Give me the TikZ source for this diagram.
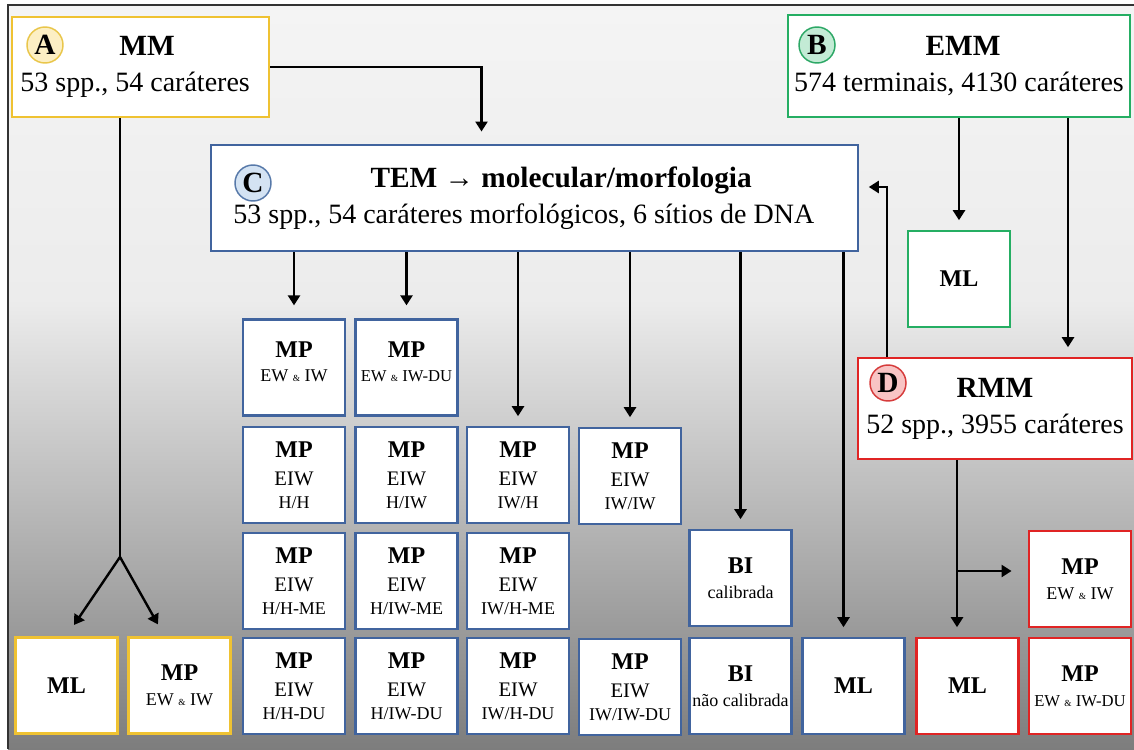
\documentclass[tikz,border=0pt]{standalone}
\usepackage{fontspec}
\setmainfont{Liberation Serif}
\usepackage{tikz}
\usetikzlibrary{positioning}
\usetikzlibrary{calc}
\usetikzlibrary{arrows.meta}
\definecolor{mmyellow}{HTML}{EFC232}
\definecolor{emmgreen}{HTML}{25AE63}
\definecolor{temblue}{HTML}{41649E}
\definecolor{rmmred}{HTML}{E02424}
\definecolor{yellowfill}{HTML}{FCEFC4}
\definecolor{yellowring}{HTML}{E9C64A}
\definecolor{greenfill}{HTML}{C3EBD5}
\definecolor{greenring}{HTML}{2DA866}
\definecolor{bluefill}{HTML}{D4E3F3}
\definecolor{bluering}{HTML}{5779A9}
\definecolor{redfill}{HTML}{F8C4C4}
\definecolor{redring}{HTML}{D63B3B}
\definecolor{bgtop}{HTML}{F4F4F4}
\definecolor{bgmid}{HTML}{ECECEC}
\definecolor{bglow}{HTML}{BDBDBD}
\definecolor{bgbot}{HTML}{7D7D7D}
\definecolor{framegray}{HTML}{333333}
\newcommand{\bigtxt}{\fontsize{21}{27}\selectfont}
\newcommand{\bigttl}{\fontsize{22}{27}\selectfont\bfseries}
\newcommand{\boxttl}{\fontsize{18}{21}\selectfont\bfseries}
\newcommand{\eiwtxt}{\fontsize{15.5}{17}\selectfont}
\newcommand{\subtxt}{\fontsize{13.5}{17}\selectfont}
\newcommand{\dutxt}{\fontsize{12.5}{17}\selectfont}
\newcommand{\smallamp}{\ {\fontsize{7}{8}\selectfont\&}\ }
\newcommand{\lift}{\rule[-9pt]{0pt}{0pt}}
\pgfdeclarelayer{bglayer}
\pgfdeclarelayer{nodelayer}
\pgfdeclarelayer{edgelayer}
\pgfsetlayers{bglayer,edgelayer,nodelayer,main}
\tikzset{bigbox/.style={draw, fill=white, rectangle, line width=2.2pt, inner sep=2pt, align=center, font=\bigtxt}}
\tikzset{smallbox/.style={draw, fill=white, rectangle, line width=2.2pt, inner sep=1pt, align=center, font=\subtxt, minimum width=76.5pt, minimum height=72pt}}
\tikzset{letter/.style={circle, draw, line width=1.1pt, inner sep=0pt, minimum size=27pt, font=\fontsize{22}{22}\selectfont\bfseries}}
\tikzset{arr/.style={line width=1.8pt, -{Triangle[length=7.5pt,width=9pt]}, shorten >=7pt}}
\tikzset{link/.style={line width=1.8pt}}

\begin{document}
\begin{tikzpicture}[x=0.75pt,y=-0.75pt]
	\useasboundingbox (0,0) rectangle (1134,749);
	\begin{pgfonlayer}{bglayer}
		\fill[white] (0,0) rectangle (1134,749);
		\shade[top color=bgtop, bottom color=bgmid] (8,5) rectangle (1134,300);
		\shade[top color=bgmid, middle color=bglow, bottom color=bgbot] (8,300) rectangle (1134,749);
		\draw[line width=1.2pt, framegray] (8,749) -- (8,5) -- (1134,5);
	\end{pgfonlayer}
	\begin{pgfonlayer}{nodelayer}
		% source matrices
		\node [bigbox, draw=mmyellow, minimum width=192.75pt, minimum height=75pt] (mm) at (140.5,67) {{\bigttl\hspace*{10pt}MM}\\53 spp., 54 caráteres\hspace*{8pt}};
		\node [bigbox, draw=emmgreen, minimum width=256.5pt, minimum height=76.5pt] (emm) at (959,66) {{\bigttl\hspace*{6pt}EMM}\\574 terminais, 4130 caráteres};
		\node [bigbox, draw=temblue, minimum width=485.25pt, minimum height=79.5pt] (tem) at (534.5,198) {{\bigttl\hspace*{40pt}TEM → molecular/morfologia}\\53 spp., 54 caráteres morfológicos, 6 sítios de DNA\hspace*{16pt}};
		\node [bigbox, draw=rmmred, minimum width=205.5pt, minimum height=75.75pt] (rmm) at (995,408.5) {{\bigttl RMM}\\52 spp., 3955 caráteres};
		\node [letter, draw=yellowring, fill=yellowfill] (la) at (45,45) {A};
		\node [letter, draw=greenring, fill=greenfill] (lb) at (817,45) {B};
		\node [letter, draw=bluering, fill=bluefill] (lc) at (253,183) {C};
		\node [letter, draw=redring, fill=redfill] (ld) at (888,383) {D};
		% analyses of MM
		\node [smallbox, draw=mmyellow] (mlA) at (66.5,685.5) {\boxttl ML};
		\node [smallbox, draw=mmyellow] (mpA) at (179.5,685.5) {{\boxttl MP}\\[1.5pt]EW\smallamp IW};
		% analyses of EMM
		\node [smallbox, draw=emmgreen] (mlB) at (959,279) {\boxttl ML};
		% analyses of TEM
		\node [smallbox, draw=temblue] (mp1) at (294,367.5) {{\boxttl MP}\\[1.5pt]EW\smallamp IW\lift};
		\node [smallbox, draw=temblue] (mp2) at (406.5,367.5) {{\boxttl MP}\\[1.5pt]{\dutxt EW\smallamp IW-DU}\lift};
		\node [smallbox, draw=temblue] (hh) at (294,475) {{\boxttl MP}\\[4pt]{\eiwtxt EIW}\\H/H};
		\node [smallbox, draw=temblue] (hiw) at (406.5,475) {{\boxttl MP}\\[4pt]{\eiwtxt EIW}\\H/IW};
		\node [smallbox, draw=temblue] (iwh) at (518,475) {{\boxttl MP}\\[4pt]{\eiwtxt EIW}\\IW/H};
		\node [smallbox, draw=temblue] (iwiw) at (630,476) {{\boxttl MP}\\[4pt]{\eiwtxt EIW}\\IW/IW};
		\node [smallbox, draw=temblue] (hhme) at (294,581) {{\boxttl MP}\\[4pt]{\eiwtxt EIW}\\H/H-ME};
		\node [smallbox, draw=temblue] (hiwme) at (406.5,581) {{\boxttl MP}\\[4pt]{\eiwtxt EIW}\\H/IW-ME};
		\node [smallbox, draw=temblue] (iwhme) at (518,581) {{\boxttl MP}\\[4pt]{\eiwtxt EIW}\\IW/H-ME};
		\node [smallbox, draw=temblue] (bical) at (740.5,578) {{\boxttl BI}\\[2pt]calibrada};
		\node [smallbox, draw=temblue] (hhdu) at (294,686) {{\boxttl MP}\\[4pt]{\eiwtxt EIW}\\H/H-DU};
		\node [smallbox, draw=temblue] (hiwdu) at (406.5,686) {{\boxttl MP}\\[4pt]{\eiwtxt EIW}\\H/IW-DU};
		\node [smallbox, draw=temblue] (iwhdu) at (518,686) {{\boxttl MP}\\[4pt]{\eiwtxt EIW}\\IW/H-DU};
		\node [smallbox, draw=temblue] (iwiwdu) at (630,687) {{\boxttl MP}\\[4pt]{\eiwtxt EIW}\\IW/IW-DU};
		\node [smallbox, draw=temblue] (binc) at (740.5,686) {{\boxttl BI}\\[2pt]não calibrada};
		\node [smallbox, draw=temblue] (mlC) at (853.5,686) {\boxttl ML};
		% analyses of RMM
		\node [smallbox, draw=rmmred] (mlD) at (967.5,686) {\boxttl ML};
		\node [smallbox, draw=rmmred] (mpD1) at (1080,579) {{\boxttl MP}\\[1.5pt]EW\smallamp IW};
		\node [smallbox, draw=rmmred] (mpD2) at (1080,686) {{\boxttl MP}\\[1.5pt]{\dutxt EW\smallamp IW-DU}};
	\end{pgfonlayer}
	\begin{pgfonlayer}{edgelayer}
		\coordinate (fork) at (120,557);
		\path (tem.south) ++(309,0) coordinate (t6);
		\path (rmm.north) ++(-108,0) coordinate (d1);
		\path (rmm.south) ++(-38,0) coordinate (d2);
		\path (emm.south) ++(109,0) coordinate (b1);
		\coordinate (d3) at ($(mpD1.west)+(0,-8)$);
		\draw [arr, shorten >=9pt] (mm.east) -| ($(tem.north)+(-53,0)$);
		\draw [link] (mm.south -| fork) -- (fork);
		\draw [arr, shorten >=10pt] (fork) -- (mlA.north);
		\draw [arr, shorten >=10pt] (fork) -- ($(mpA.north)+(-15,0)$);
		\draw [arr] (emm.south -| mlB.north) -- (mlB.north);
		\draw [arr] (b1) -- (b1 |- rmm.north);
		\draw [arr] (d1) |- ($(tem.east)+(0,-11)$);
		\draw [arr, shorten >=9.5pt] (tem.south -| mp1.north) -- (mp1.north);
		\draw [arr, shorten >=9.5pt] (tem.south -| mp2.north) -- (mp2.north);
		\draw [arr] (tem.south -| iwh.north) -- (iwh.north);
		\draw [arr] (tem.south -| iwiw.north) -- (iwiw.north);
		\draw [arr] (tem.south -| bical.north) -- (bical.north);
		\draw [arr] (t6) -- (t6 |- mlC.north);
		\draw [arr] (d2) -- (d2 |- mlD.north);
		\draw [arr, shorten >=12pt] (d2 |- d3) -- (d3);
	\end{pgfonlayer}
\end{tikzpicture}
\end{document}
